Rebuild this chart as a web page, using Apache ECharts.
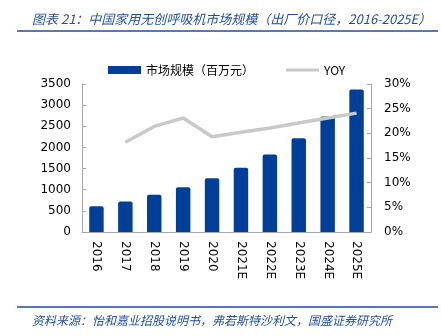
<!DOCTYPE html>
<html><head><meta charset="utf-8">
<script src="https://cdn.jsdelivr.net/npm/echarts@6/dist/echarts.min.js"></script>
<style>html,body{margin:0;padding:0;background:#fff}#c{width:441px;height:336px}</style>
</head><body><div id="c"></div>
<script>
var categories = ['2016','2017','2018','2019','2020','2021E','2022E','2023E','2024E','2025E'];
var marketSize = [610, 720, 880, 1060, 1270, 1520, 1830, 2220, 2730, 3370];
var yoy = [null, 18.2, 21.4, 23.1, 19.3, 20.2, 21.1, 22.1, 23.1, 24.1];
var titleText = '图表 21：中国家用无创呼吸机市场规模（出厂价口径，2016-2025E）';
var sourceText = '资料来源：怡和嘉业招股说明书，弗若斯特沙利文，国盛证券研究所';
var seriesNames = ['市场规模（百万元）', 'YOY'];

var chart = echarts.init(document.getElementById('c'), null, {renderer: 'canvas'});
var numFont = 'DejaVu Sans';
var cjk = '"Noto Sans CJK SC"';
var axisColor = '#A6A6A6';
chart.setOption({
  animation: false,
  title: [{
    text: titleText, left: 27, top: 8,
    textStyle: {fontFamily: cjk, fontStyle: 'italic', fontWeight: 'normal', fontSize: 13, color: '#1F4E9A'}
  }, {
    text: sourceText, left: 27, top: 309,
    textStyle: {fontFamily: cjk, fontStyle: 'italic', fontWeight: 'normal', fontSize: 12, color: '#1F4E9A'}
  }],
  graphic: [
    {type: 'line', shape: {x1: 17, y1: 31, x2: 438, y2: 31}, style: {stroke: '#1F4E9A', lineWidth: 1.5}},
    {type: 'line', shape: {x1: 17, y1: 307, x2: 438, y2: 307}, style: {stroke: '#1F4E9A', lineWidth: 1.5}}
  ],
  legend: {
    top: 59, left: 103, itemGap: 32, itemWidth: 33, itemHeight: 8,
    textStyle: {fontFamily: cjk, fontSize: 12, color: '#000'},
    data: [
      {name: seriesNames[0], icon: 'rect'},
      {name: seriesNames[1], icon: 'path://M0,0h33v3h-33z', itemStyle: {color: '#C9C9C9'}}
    ]
  },
  grid: {left: 82, right: 70, top: 84, bottom: 104, containLabel: false},
  xAxis: {
    type: 'category', data: categories,
    axisLine: {lineStyle: {color: axisColor}},
    axisTick: {inside: true, alignWithLabel: false, lineStyle: {color: axisColor}, length: 4},
    axisLabel: {rotate: -90, interval: 0, margin: 9, fontFamily: numFont, fontSize: 12, color: '#000'}
  },
  yAxis: [{
    type: 'value', min: 0, max: 3500, interval: 500,
    axisLine: {show: true, lineStyle: {color: axisColor}},
    axisTick: {show: true, inside: true, length: 4, lineStyle: {color: axisColor}},
    splitLine: {show: false},
    axisLabel: {fontFamily: numFont, fontSize: 12, color: '#000', margin: 11,
      formatter: function (v) { return String(v); }}
  }, {
    type: 'value', min: 0, max: 30, interval: 5,
    axisLine: {show: true, lineStyle: {color: axisColor}},
    axisTick: {show: true, inside: true, length: 4, lineStyle: {color: axisColor}},
    splitLine: {show: false},
    axisLabel: {fontFamily: numFont, fontSize: 12, color: '#000', margin: 13, formatter: '{value}%'}
  }],
  series: [{
    name: seriesNames[0], type: 'bar', data: marketSize, barWidth: '50%',
    itemStyle: {color: '#003F98', borderRadius: [2, 2, 0, 0]}
  }, {
    name: seriesNames[1], type: 'line', yAxisIndex: 1, data: yoy,
    symbol: 'none', lineStyle: {color: '#C9C9C9', width: 3.5}, itemStyle: {color: '#C9C9C9'}
  }]
});
</script></body></html>
